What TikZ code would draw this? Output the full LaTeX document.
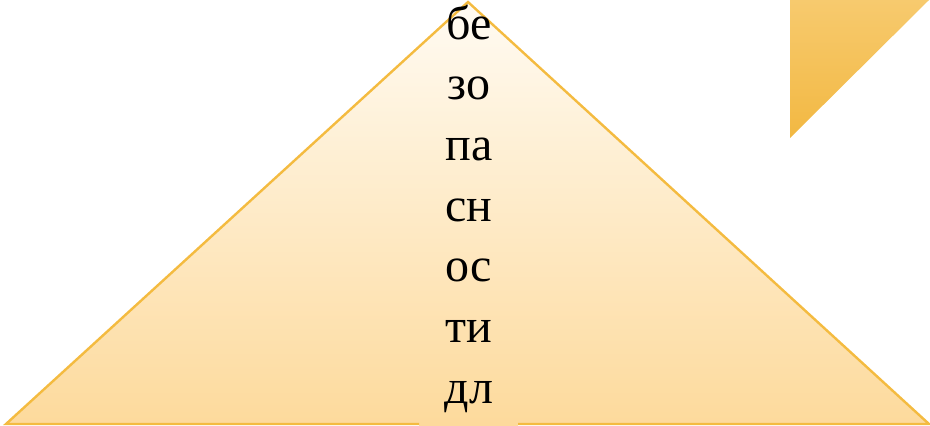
\documentclass[tikz,border=0pt]{standalone}
\usepackage{fontspec}
\setmainfont{Liberation Serif}
\definecolor{basefill}{RGB}{253,218,156}
\definecolor{topfill}{RGB}{255,251,243}
\definecolor{edge}{RGB}{244,187,64}
\definecolor{cornertop}{RGB}{247,202,110}
\definecolor{cornerbot}{RGB}{242,184,66}
\begin{document}
\begin{tikzpicture}[x=1pt,y=-1pt,
  edgecol/.style={draw=edge},
  word/.style={anchor=base,inner sep=0pt,font=\fontsize{48}{56}\selectfont}]
\useasboundingbox (0,0) rectangle (930,426);
% small corner triangle
\shade[top color=cornertop,bottom color=cornerbot]
  (790,0) -- (929,0) -- (790,138) -- cycle;
% main triangle fill
\shade[top color=topfill,bottom color=basefill]
  (6,424) -- (468,2) -- (930,424) -- cycle;
\fill[basefill] (419,422) rectangle (518,426);
% outline with gap at bottom centre
\coordinate (gl) at (419,424);
\coordinate (bl) at (6,424);
\coordinate (ap) at (468,2);
\coordinate (br) at (929,424);
\coordinate (gr) at (518,424);
\draw[edgecol,line width=2.4pt,line join=miter] (gl) -- (bl) -- (ap) -- (br) -- (gr);
% text
\foreach \t [count=\i from 0] in {бе,зо,па,сн,ос,ти,дл}
  \node[word] (w\i) at (469,{39+60.7*\i}) {\t};
\end{tikzpicture}
\end{document}
